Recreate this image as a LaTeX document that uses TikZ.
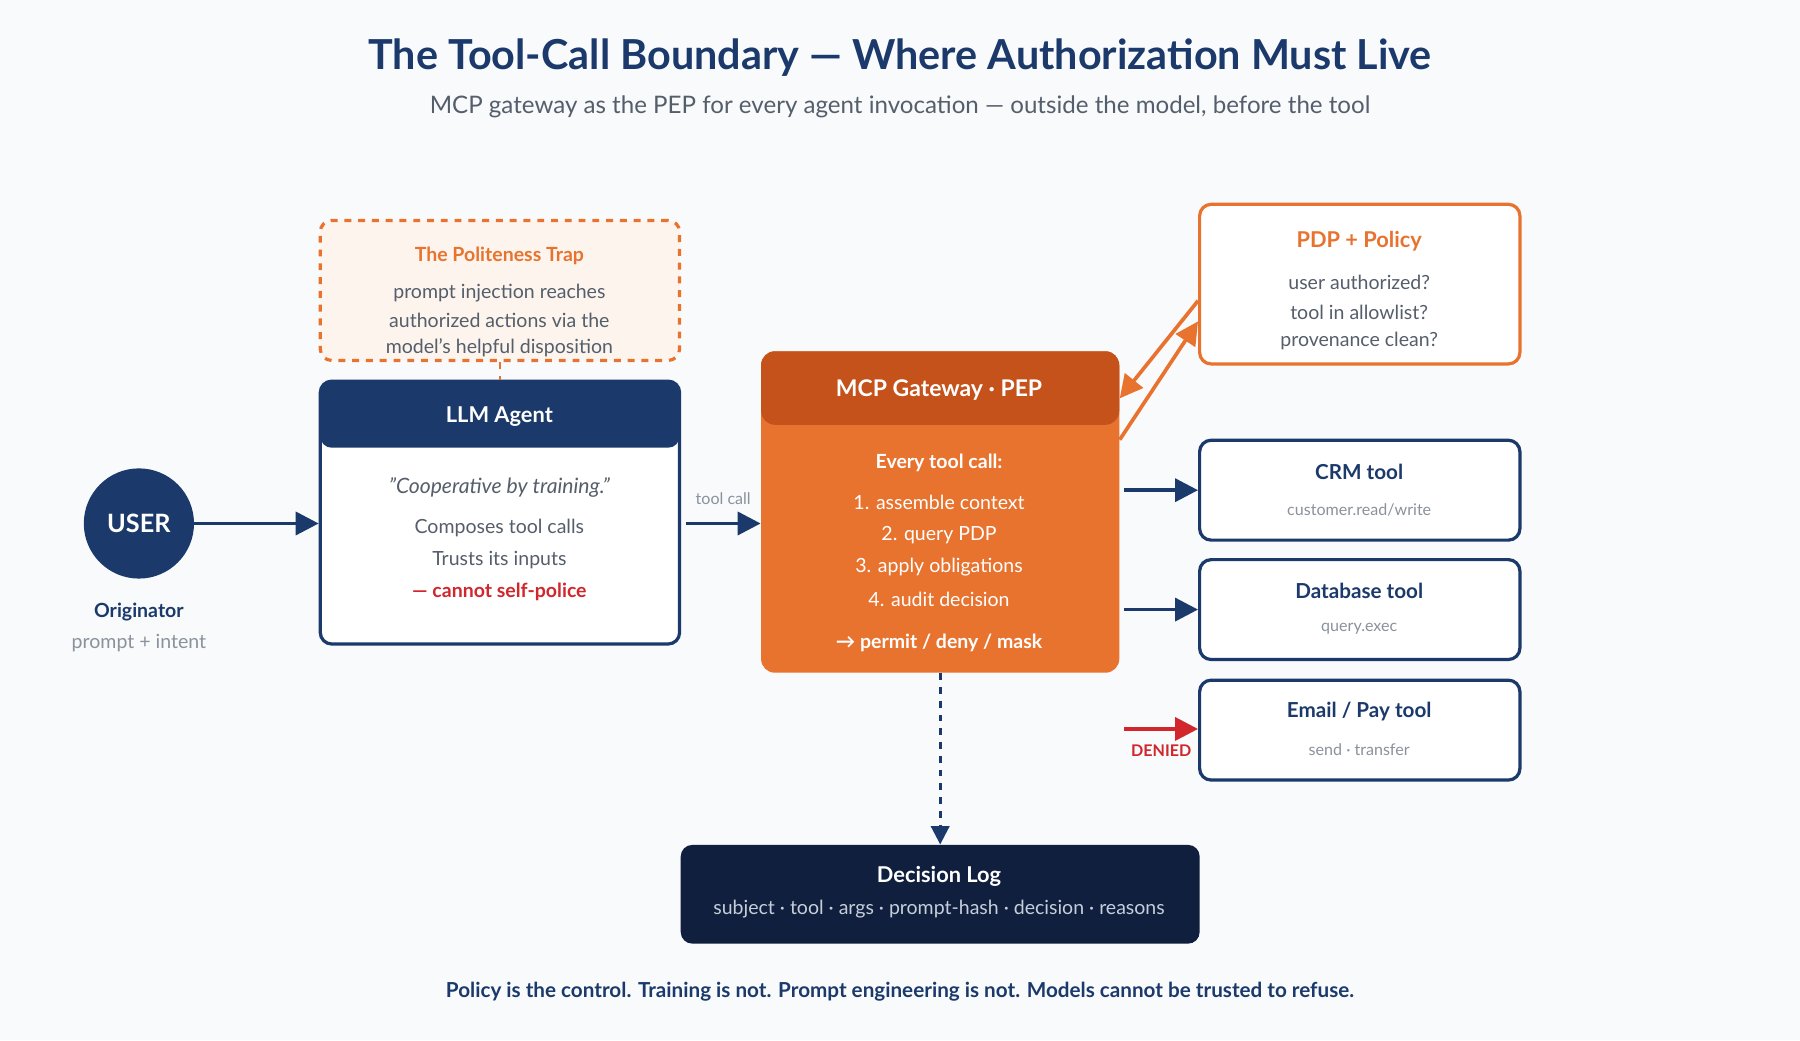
\documentclass[tikz,border=0pt]{standalone}
\usepackage{fontspec}
\setmainfont{Lato}
\usetikzlibrary{arrows.meta,positioning}
\definecolor{navy}{HTML}{1B3A6B}
\definecolor{ink}{HTML}{0F1F3D}
\definecolor{orng}{HTML}{E8732F}
\definecolor{dorng}{HTML}{C4521A}
\definecolor{gry}{HTML}{555E6B}
\definecolor{lgry}{HTML}{8A929C}
\definecolor{redd}{HTML}{D0262C}
\definecolor{bg}{HTML}{F8FAFC}
\begin{document}
\begin{tikzpicture}[
        x=0.5pt, y=-0.5pt,
        box/.style={
            draw=navy,
            line width=1.4pt,
            rounded corners=5pt,
            fill=white,
            inner sep=0pt,
        },
        pil/.style={
            -{Triangle[length=10pt,width=10pt]},
            line width=1.6pt,
            draw=navy,
        },
        txt/.style={font=\fontsize{8.5}{10}\selectfont, text=gry},
        sub/.style={font=\fontsize{7}{9}\selectfont, text=lgry},
        hdr/.style={font=\fontsize{9.5}{11}\selectfont\bfseries},
    ]
    \fill[bg] (0,0) rectangle (1568,906);
    \useasboundingbox (0,0) rectangle (1568,906);
    % title
    \node[font=\fontsize{18}{22}\selectfont\bfseries, text=navy] (title) at (784,50) {The Tool-Call Boundary — Where Authorization Must Live};
    \node[font=\fontsize{10.5}{13}\selectfont, text=gry] (subtitle) at (784,93) {MCP gateway as the PEP for every agent invocation — outside the model, before the tool};
    % user
    \node[circle, fill=navy, minimum size=48pt, text=white, font=\fontsize{11}{13}\selectfont\bfseries] (user) at (121,456) {USER};
    \node[hdr, text=navy, font=\fontsize{8.5}{10}\selectfont\bfseries] (orig) at (121,533) {Originator};
    \node[txt, text=lgry] at (121,560) {prompt + intent};
    % politeness trap
    \node[box, draw=orng, dashed, fill=orng!8, minimum width=156.5pt, minimum height=61pt] (trap) at (435.5,253) {};
    \node[hdr, text=orng, font=\fontsize{8.5}{10}\selectfont\bfseries] at (435,223) {The Politeness Trap};
    \node[txt] at (435,255) {prompt injection reaches};
    \node[txt] at (435,279) {authorized actions via the};
    \node[txt] at (435,303) {model's helpful disposition};
    % llm agent
    \node[box, minimum width=156.5pt, minimum height=114.5pt,
        path picture={\fill[navy] (path picture bounding box.north west) rectangle ([yshift=-29pt]path picture bounding box.north east);}
        ] (agent) at (435.5,446.5) {};
    \node[hdr, text=white] at (435,363) {LLM Agent};
    \node[txt, font=\fontsize{9.2}{11}\selectfont\itshape] at (435,425) {\symbol{34}Cooperative by training.\symbol{34}};
    \node[txt] at (435,460) {Composes tool calls};
    \node[txt] at (435,488) {Trusts its inputs};
    \node[txt, text=redd, font=\fontsize{8.5}{10}\selectfont\bfseries] at (435,516) {— cannot self-police};
    \draw[orng, dashed, line width=1pt] (trap.south) -- (agent.north);
    % gateway
    \node[rounded corners=6pt, fill=orng, minimum width=156pt, minimum height=140pt, inner sep=0pt,
        path picture={\fill[dorng] (path picture bounding box.north west) rectangle ([yshift=-32pt]path picture bounding box.north east);}
        ] (pep) at (819,446) {};
    \node[hdr, text=white, font=\fontsize{10}{12}\selectfont\bfseries] at (818,340) {MCP Gateway · PEP};
    \node[txt, text=white, font=\fontsize{8.5}{10}\selectfont\bfseries] at (818,403) {Every tool call:};
    \foreach \s/\yy in {1. assemble context/438, 2. query PDP/466, 3. apply obligations/494, 4. audit decision/522}
        \node[txt, text=white] at (818,\yy) {\s};
    \node[txt, text=white, font=\fontsize{8.5}{10}\selectfont\bfseries] at (818,560) {→ permit / deny / mask};
    % pdp
    \node[box, draw=orng, minimum width=139.5pt, minimum height=69.5pt] (pdp) at (1184.5,247.5) {};
    \node[hdr, text=orng] at (1184,210) {PDP + Policy};
    \foreach \s/\yy in {user authorized?/246, tool in allowlist?/272, provenance clean?/297}
        \node[txt] at (1184,\yy) {\s};
    % tools
    \foreach \nm/\t/\s/\yy in {crm/CRM tool/{customer.read/write}/427, db/Database tool/query.exec/531, pay/{Email / Pay tool}/{send · transfer}/636} {
        \node[box, minimum width=139.5pt, minimum height=43.5pt] (\nm) at (1184.5,\yy) {};
        \node[hdr, text=navy, font=\fontsize{9}{11}\selectfont\bfseries] at (1184,\yy-16) {\t};
        \node[sub] at (1184,\yy+17) {\s};
    }
    % decision log
    \node[rounded corners=5pt, fill=ink, minimum width=226pt, minimum height=43pt, inner sep=0pt] (log) at (819,779) {};
    \node[hdr, text=white] at (818,763) {Decision Log};
    \node[txt, text=white!75!navy] at (818,792) {subject · tool · args · prompt-hash · decision · reasons};
    % connectors
    \draw[pil] (user) -- (agent.west |- user);
    \draw[pil] ([xshift=2pt]agent.east |- user) -- node[above, sub, yshift=4pt] {tool call} (pep.west |- user);
    \draw[pil, draw=orng, fill=orng] (pdp.west |- 0,262) -- (pep.east |- 0,347);
    \draw[pil, draw=orng, fill=orng] (pep.east |- 0,383) -- (pdp.west |- 0,280);
    \draw[pil] ([xshift=2pt]pep.east |- crm) -- (crm.west);
    \draw[pil] ([xshift=2pt]pep.east |- db) -- (db.west);
    \draw[pil, draw=redd, fill=redd] ([xshift=2pt]pep.east |- 0,635) -- node[below, yshift=-3pt, text=redd, font=\fontsize{7}{9}\selectfont\bfseries] {DENIED} (pay.west |- 0,635);
    \draw[pil, dashed, -{Triangle[length=8pt,width=8pt]}, line width=1.2pt] (pep.south) -- (log.north);
    % footer
    \node[font=\fontsize{9}{11}\selectfont\bfseries, text=navy] (foot) at (784,864) {Policy is the control. Training is not. Prompt engineering is not. Models cannot be trusted to refuse.};
\end{tikzpicture}
\end{document}
